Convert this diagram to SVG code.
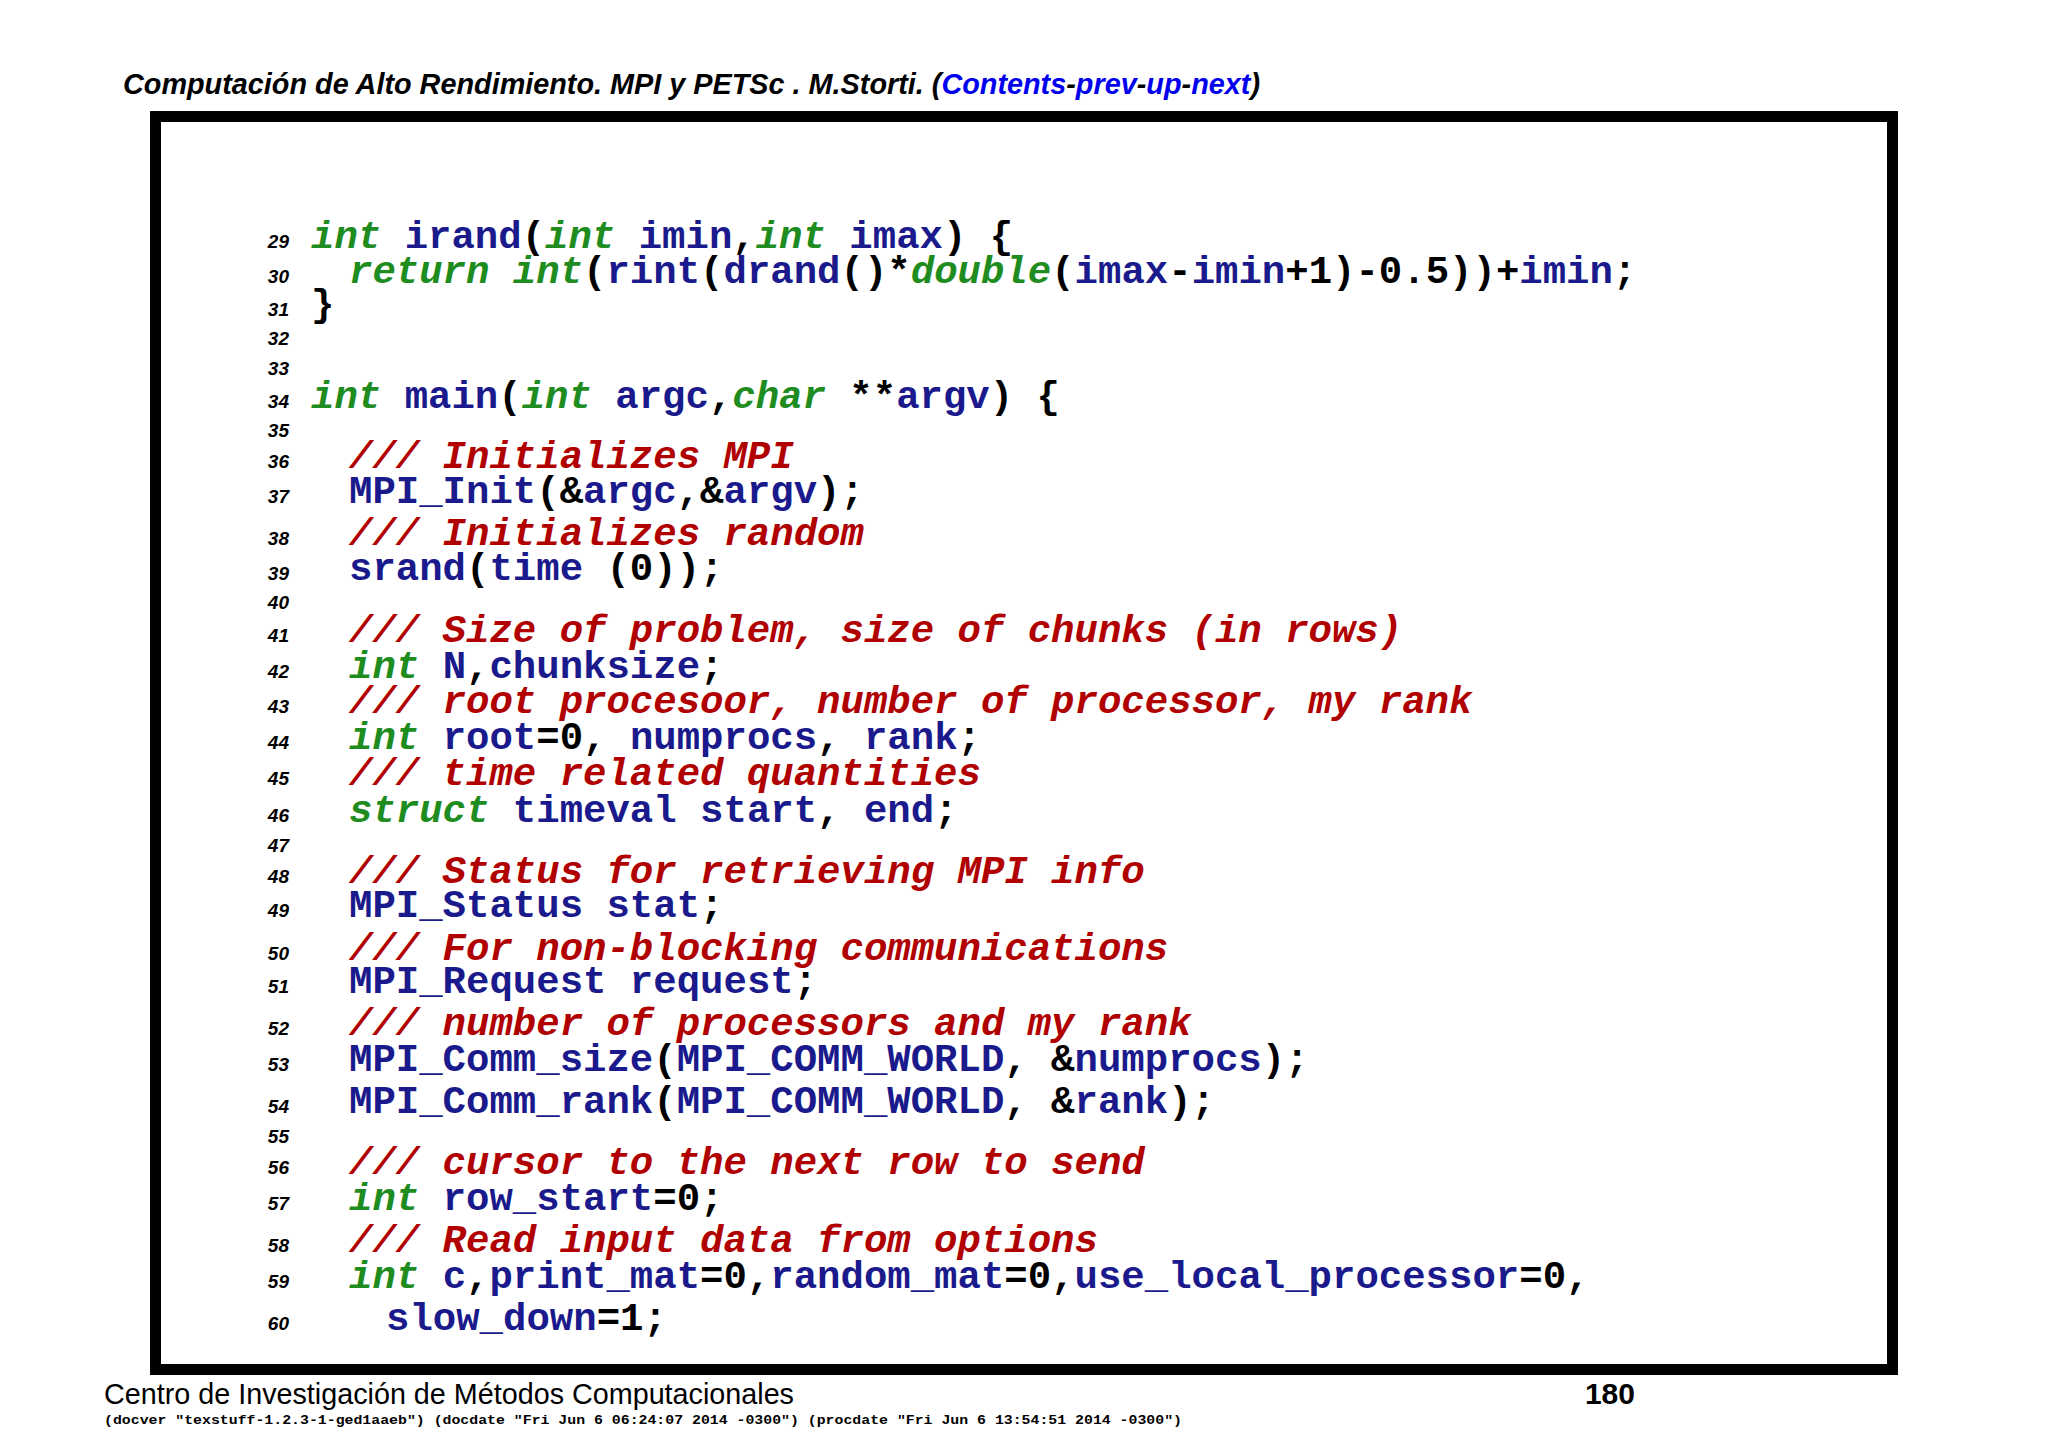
<svg xmlns="http://www.w3.org/2000/svg" width="2048" height="1448" viewBox="0 0 2048 1448">
<style>
.hd{font-family:"Liberation Sans",Arial,sans-serif;font-weight:bold;font-style:italic;font-size:29px;fill:#000}
.lk{fill:#0000ee}
.ln{font-family:"Liberation Sans",Arial,sans-serif;font-weight:bold;font-style:italic;font-size:19px;fill:#000;text-anchor:end}
.c{font-family:"Liberation Mono","Courier New",monospace;font-weight:bold;font-size:39px;fill:#000}
.k{fill:#1e8c1e;font-style:italic}
.i{fill:#1a1a8c}
.r{fill:#b00000;font-style:italic}
.ft{font-family:"Liberation Sans",Arial,sans-serif;font-size:30px;fill:#000}
.sm{font-family:"Liberation Mono","Courier New",monospace;font-weight:bold;font-size:13px;fill:#000}
</style>
<rect width="2048" height="1448" fill="#fff"/>
<g id="header"><text class="hd" x="123" y="94" textLength="1137" lengthAdjust="spacingAndGlyphs">Computación de Alto Rendimiento. MPI y PETSc . M.Storti. (<tspan class="lk">Contents</tspan>-<tspan class="lk">prev</tspan>-<tspan class="lk">up</tspan>-<tspan class="lk">next</tspan>)</text></g>
<g id="frame"><rect x="155.5" y="116.5" width="1737" height="1253" fill="none" stroke="#000" stroke-width="11"/></g>
<g id="linenumbers" transform="translate(0,3)">
<text class="ln" x="289" y="245">29</text><text class="ln" x="289" y="280">30</text><text class="ln" x="289" y="313">31</text><text class="ln" x="289" y="342">32</text><text class="ln" x="289" y="372">33</text><text class="ln" x="289" y="405">34</text><text class="ln" x="289" y="434">35</text><text class="ln" x="289" y="465">36</text><text class="ln" x="289" y="500">37</text><text class="ln" x="289" y="542">38</text><text class="ln" x="289" y="577">39</text><text class="ln" x="289" y="606">40</text><text class="ln" x="289" y="639">41</text><text class="ln" x="289" y="675">42</text><text class="ln" x="289" y="710">43</text><text class="ln" x="289" y="746">44</text><text class="ln" x="289" y="782">45</text><text class="ln" x="289" y="819">46</text><text class="ln" x="289" y="849">47</text><text class="ln" x="289" y="880">48</text><text class="ln" x="289" y="914">49</text><text class="ln" x="289" y="957">50</text><text class="ln" x="289" y="990">51</text><text class="ln" x="289" y="1032">52</text><text class="ln" x="289" y="1068">53</text><text class="ln" x="289" y="1110">54</text><text class="ln" x="289" y="1140">55</text><text class="ln" x="289" y="1171">56</text><text class="ln" x="289" y="1207">57</text><text class="ln" x="289" y="1249">58</text><text class="ln" x="289" y="1285">59</text><text class="ln" x="289" y="1327">60</text>
</g>
<g id="code" transform="translate(0,3)">
<text class="c" x="311" y="245" xml:space="preserve"><tspan class="k">int</tspan> <tspan class="i">irand</tspan>(<tspan class="k">int</tspan> <tspan class="i">imin</tspan>,<tspan class="k">int</tspan> <tspan class="i">imax</tspan>) {</text>
<text class="c" x="349" y="280" xml:space="preserve"><tspan class="k">return</tspan> <tspan class="k">int</tspan>(<tspan class="i">rint</tspan>(<tspan class="i">drand</tspan>()*<tspan class="k">double</tspan>(<tspan class="i">imax</tspan>-<tspan class="i">imin</tspan>+1)-0.5))+<tspan class="i">imin</tspan>;</text>
<text class="c" x="311" y="313">}</text>
<text class="c" x="311" y="405" xml:space="preserve"><tspan class="k">int</tspan> <tspan class="i">main</tspan>(<tspan class="k">int</tspan> <tspan class="i">argc</tspan>,<tspan class="k">char</tspan> **<tspan class="i">argv</tspan>) {</text>
<text class="c r" x="349" y="465">/// Initializes MPI</text>
<text class="c" x="349" y="500"><tspan class="i">MPI_Init</tspan>(&amp;<tspan class="i">argc</tspan>,&amp;<tspan class="i">argv</tspan>);</text>
<text class="c r" x="349" y="542">/// Initializes random</text>
<text class="c" x="349" y="577" xml:space="preserve"><tspan class="i">srand</tspan>(<tspan class="i">time</tspan> (0));</text>
<text class="c r" x="349" y="639">/// Size of problem, size of chunks (in rows)</text>
<text class="c" x="349" y="675" xml:space="preserve"><tspan class="k">int</tspan> <tspan class="i">N</tspan>,<tspan class="i">chunksize</tspan>;</text>
<text class="c r" x="349" y="710">/// root procesoor, number of processor, my rank</text>
<text class="c" x="349" y="746" xml:space="preserve"><tspan class="k">int</tspan> <tspan class="i">root</tspan>=0, <tspan class="i">numprocs</tspan>, <tspan class="i">rank</tspan>;</text>
<text class="c r" x="349" y="782">/// time related quantities</text>
<text class="c" x="349" y="819" xml:space="preserve"><tspan class="k">struct</tspan> <tspan class="i">timeval</tspan> <tspan class="i">start</tspan>, <tspan class="i">end</tspan>;</text>
<text class="c r" x="349" y="880">/// Status for retrieving MPI info</text>
<text class="c" x="349" y="914" xml:space="preserve"><tspan class="i">MPI_Status</tspan> <tspan class="i">stat</tspan>;</text>
<text class="c r" x="349" y="957">/// For non-blocking communications</text>
<text class="c" x="349" y="990" xml:space="preserve"><tspan class="i">MPI_Request</tspan> <tspan class="i">request</tspan>;</text>
<text class="c r" x="349" y="1032">/// number of processors and my rank</text>
<text class="c" x="349" y="1068" xml:space="preserve"><tspan class="i">MPI_Comm_size</tspan>(<tspan class="i">MPI_COMM_WORLD</tspan>, &amp;<tspan class="i">numprocs</tspan>);</text>
<text class="c" x="349" y="1110" xml:space="preserve"><tspan class="i">MPI_Comm_rank</tspan>(<tspan class="i">MPI_COMM_WORLD</tspan>, &amp;<tspan class="i">rank</tspan>);</text>
<text class="c r" x="349" y="1171">/// cursor to the next row to send</text>
<text class="c" x="349" y="1207" xml:space="preserve"><tspan class="k">int</tspan> <tspan class="i">row_start</tspan>=0;</text>
<text class="c r" x="349" y="1249">/// Read input data from options</text>
<text class="c" x="349" y="1285" xml:space="preserve"><tspan class="k">int</tspan> <tspan class="i">c</tspan>,<tspan class="i">print_mat</tspan>=0,<tspan class="i">random_mat</tspan>=0,<tspan class="i">use_local_processor</tspan>=0,</text>
<text class="c" x="386" y="1327"><tspan class="i">slow_down</tspan>=1;</text>
</g>
<g id="footer">
<text class="ft" x="104" y="1404" textLength="690" lengthAdjust="spacingAndGlyphs">Centro de Investigación de Métodos Computacionales</text>
<text class="ft" x="1635" y="1404" font-weight="bold" text-anchor="end">180</text>
<text class="sm" x="104" y="1424" textLength="1078" lengthAdjust="spacingAndGlyphs">(docver "texstuff-1.2.3-1-ged1aaeb") (docdate "Fri Jun 6 06:24:07 2014 -0300") (procdate "Fri Jun 6 13:54:51 2014 -0300")</text>
</g>
</svg>
